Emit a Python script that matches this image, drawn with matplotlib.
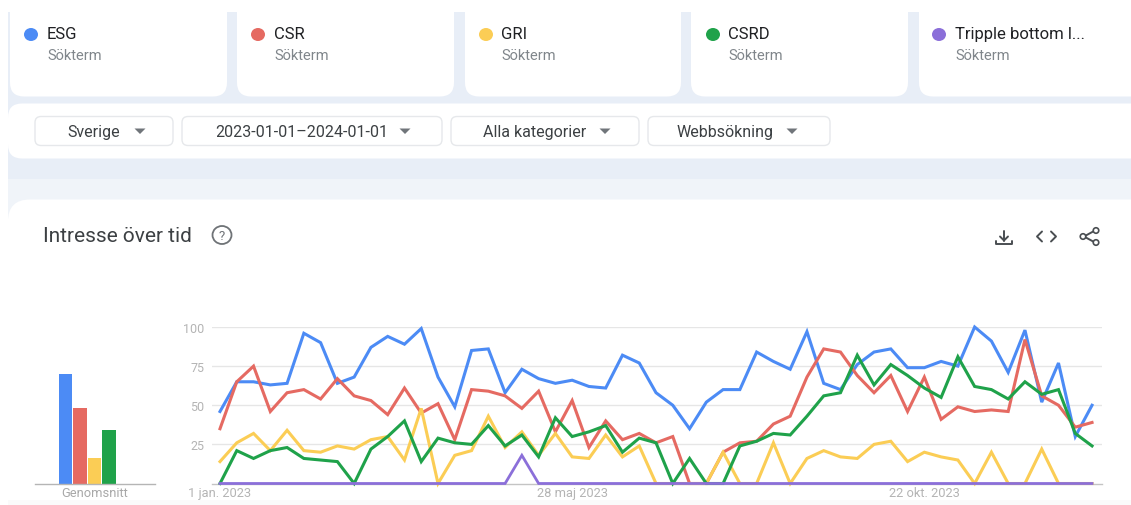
#! /usr/bin/env python
import numpy as np
import pandas as pd
import matplotlib as mpl
mpl.use('Agg')
import matplotlib.pyplot as plt
import matplotlib.patches as mpatches
mpl.rc('font', family=['Roboto', 'DejaVu Sans'])

W, H = 1131, 506

# weekly search interest
esg = [46, 65, 65, 63, 64, 96, 90, 64, 68, 87, 94, 89, 99, 68, 49, 85, 86, 58, 73, 67, 64, 66, 62, 61, 82, 77, 58,
       50, 35, 52, 60, 60, 84, 78, 73, 97, 64, 60, 76, 84, 86, 74, 74, 78, 75, 100, 91, 71, 98, 52, 77, 30, 50]
csr = [35, 65, 75, 46, 58, 60, 54, 67, 56, 53, 44, 61, 45, 51, 28, 60, 59, 56, 48, 59, 33, 53, 23, 40, 28, 32, 26,
       30, 0, 0, 20, 26, 27, 38, 43, 68, 86, 84, 69, 58, 69, 46, 68, 41, 49, 46, 47, 46, 92, 56, 50, 36, 39]
gri = [14, 26, 32, 21, 34, 21, 20, 24, 22, 28, 30, 15, 48, 0, 18, 21, 43, 23, 33, 18, 32, 17, 16, 31, 17, 24, 0,
       0, 0, 0, 20, 0, 0, 26, 0, 16, 21, 17, 16, 25, 27, 14, 20, 17, 15, 0, 20, 0, 0, 22, 0, 0, 0]
csrd = [0, 21, 16, 21, 23, 16, 15, 14, 0, 22, 30, 40, 14, 29, 26, 25, 37, 24, 31, 17, 42, 30, 33, 37, 20, 29, 26,
        0, 16, 0, 0, 24, 27, 32, 31, 43, 56, 58, 82, 63, 76, 69, 61, 55, 81, 62, 60, 54, 65, 57, 60, 32, 24]
tbl = [0] * 18 + [18] + [0] * 34

terms = ['ESG', 'CSR', 'GRI', 'CSRD', 'Tripple bottom l...']
colors = ['#4c8bf5', '#e56a62', '#fbcd55', '#1fa24a', '#8b6fd9']
averages = [70, 48, 16, 34, 0]

yticks = [25, 50, 75, 100]
date_ticks = ['2023-01-01', '2023-05-28', '2023-10-22']
date_labels = ['1 jan. 2023', '28 maj 2023', '22 okt. 2023']
filters = ['Sverige', '2023-01-01\u20132024-01-01', 'Alla kategorier', 'Webbsökning']
filter_title = 'Intresse över tid'

dates = pd.date_range('2023-01-01', periods=len(esg), freq='7D')


def px_axes(fig, x0, y0, x1, y1):
    # axes from pixel box, y counted from the top of the image
    return fig.add_axes([x0 / W, 1 - y1 / H, (x1 - x0) / W, (y1 - y0) / H])


def card(ax, x0, y0, x1, y1, r, fc='white', ec='none', lw=0, z=1):
    p = mpatches.FancyBboxPatch((x0 + r, y0 + r), x1 - x0 - 2 * r, y1 - y0 - 2 * r,
                                boxstyle='round,pad=%f,rounding_size=%f' % (r, r),
                                fc=fc, ec=ec, lw=lw, zorder=z)
    ax.add_patch(p)


fig = plt.figure(figsize=(W / 100, H / 100), dpi=100, facecolor='white')

# page background and cards, in pixels
ui = fig.add_axes([0, 0, 1, 1])
ui.set_xlim(0, W)
ui.set_ylim(H, 0)
ui.axis('off')
ui.add_patch(mpatches.Rectangle((8, 12.5), W - 8, 167, fc='#e8eef7', ec='none', zorder=0))
ui.add_patch(mpatches.Rectangle((8, 179.5), W - 8, 40, fc='#f0f4f9', ec='none', zorder=0))

card_x = [(10, 227), (237, 454), (465, 681), (691, 908), (919, 1150)]
dot_x = [31, 258, 486, 713, 939]
label_x = [47, 274, 501, 728, 955]
for (x0, x1), dx, lx, term, c in zip(card_x, dot_x, label_x, terms, colors):
    card(ui, x0, -20, x1, 97.5, 14)
    ui.add_patch(mpatches.Ellipse((dx, 35.5), 14, 13, fc=c, ec='none', zorder=3))
    ui.text(lx, 34.5, term, fontsize=12, color='#202124', va='center', zorder=3)
    ui.text(lx, 55.5, 'Sökterm', fontsize=10.5, color='#80868b', va='center', zorder=3)

card(ui, 8, 104.5, 1160, 159.5, 14)
btn_x = [(35, 173), (182, 442), (451, 639), (648, 830)]
btn_text = [94, 302, 535, 725]
btn_tri = [140, 405, 605, 792]
for (x0, x1), tx, tri, label in zip(btn_x, btn_text, btn_tri, filters):
    card(ui, x0, 117.5, x1, 146.5, 6, fc='white', ec='#e6e8eb', lw=1.0, z=2)
    ui.text(tx, 132, label, fontsize=11.5, color='#3c4043', ha='center', va='center', zorder=3)
    ui.add_patch(mpatches.Polygon([(tri - 5.5, 129.5), (tri + 5.5, 129.5), (tri, 135)],
                                  fc='#70757a', ec='none', zorder=3))

card(ui, 8, 200.5, 1160, 540, 22)
ui.add_patch(mpatches.Rectangle((8, 501), W - 8, 5, fc='#fafafa', ec='none', zorder=1.5))
ui.text(43, 236.5, filter_title, fontsize=15, color='#3c4043', va='center', zorder=3)

# help icon
ui.add_patch(mpatches.Ellipse((222, 236), 19, 18, fc='none', ec='#6f7377', lw=1.3, zorder=3))
ui.text(222, 236, '?', fontsize=9.5, color='#6f7377', ha='center', va='center', zorder=3)

# download, embed and share icons
icon = dict(color='#4a4e52', lw=1.4, zorder=3, solid_capstyle='round')
ui.plot([1004, 1004], [231.5, 241.5], **icon)
ui.plot([1000, 1004, 1008], [237.5, 241.5, 237.5], **icon)
ui.plot([996, 996, 1012, 1012], [241.5, 244.5, 244.5, 241.5], **icon)
ui.plot([1042, 1037, 1042], [232.5, 237.5, 242.5], **icon)
ui.plot([1051, 1056, 1051], [232.5, 237.5, 242.5], **icon)
ui.plot([1095, 1084, 1095], [231.5, 237.5, 243.5], **icon)
for sx, sy in [(1096, 231.5), (1083, 237.5), (1096, 243.5)]:
    ui.add_patch(mpatches.Ellipse((sx, sy), 5.5, 5.5, fc='white', ec='#4a4e52', lw=1.2, zorder=4))

# average bars
ax_bar = px_axes(fig, 35, 328, 155, 484.5)
ax_bar.patch.set_alpha(0)
bar_pos = np.arange(len(averages))
ax_bar.bar(bar_pos, averages, width=0.92, color=colors)
ax_bar.set_xlim((35 - 65.3) / 14.6, (155 - 65.3) / 14.6)
ax_bar.set_ylim(0, 100)
for s in ['top', 'left', 'right']:
    ax_bar.spines[s].set_visible(False)
ax_bar.spines['bottom'].set_color('#b5b5b5')
ax_bar.spines['bottom'].set_linewidth(1.0)
ax_bar.set_yticks([])
ax_bar.set_xticks([])
ax_bar.set_xlabel('Genomsnitt', fontsize=9.3, color='#a8a8a8', labelpad=2)

# time series
ax = px_axes(fig, 212, 328, 1102, 484.5)
ax.patch.set_alpha(0)
for series, c in zip([esg, csr, gri, csrd], colors):
    ax.plot(dates, series, color=c, lw=2.2, clip_on=False, solid_joinstyle='miter', zorder=3)
ax.plot(dates, tbl, color=colors[4], lw=2.0, clip_on=False, solid_joinstyle='miter', zorder=4)
day = pd.Timedelta(days=1)
ax.set_xlim(dates[0] - day * 7 * 8 / 16.77, dates[0] + day * 7 * 882 / 16.77)
ax.set_ylim(0, 100)
ax.set_yticks(yticks)
ax.set_xticks(pd.to_datetime(date_ticks))
ax.set_xticklabels(date_labels)
ax.grid(axis='y', color='#e6e6e6', lw=1.0, zorder=0)
ax.set_axisbelow(True)
ax.tick_params(axis='y', length=0, labelcolor='#b4b4b4', labelsize=9, pad=5.5)
ax.tick_params(axis='x', length=0, labelcolor='#b4b4b4', labelsize=9.3, pad=2)
for s in ['top', 'left', 'right']:
    ax.spines[s].set_visible(False)
ax.spines['bottom'].set_color('#c4c4c4')
ax.spines['bottom'].set_linewidth(1.0)

fig.savefig('out.png', dpi=100)
